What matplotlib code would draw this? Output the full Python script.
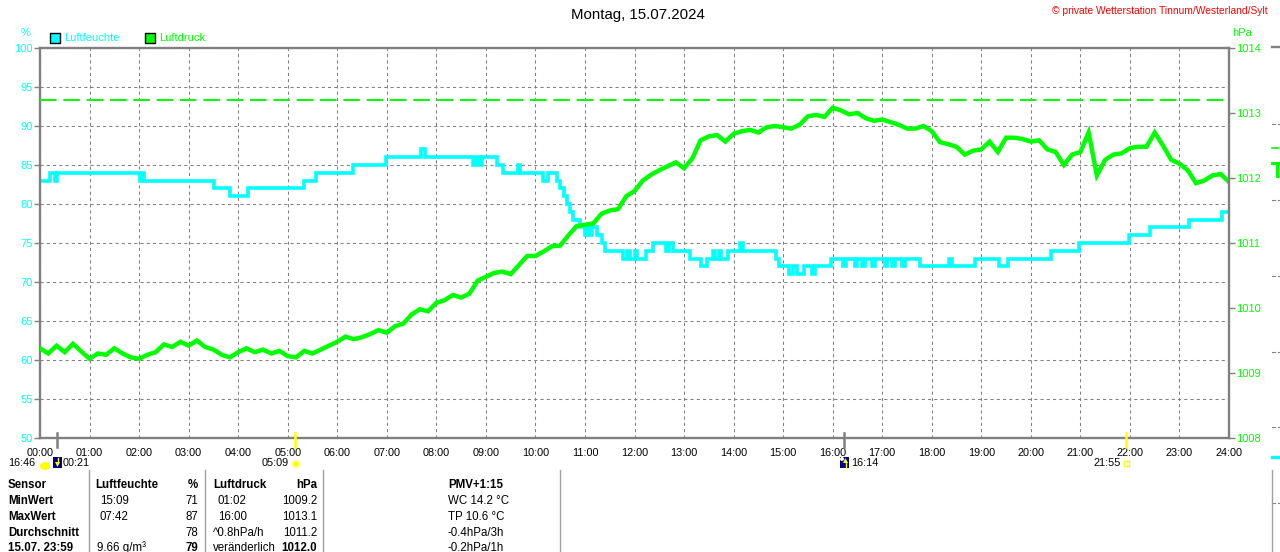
import matplotlib
matplotlib.use('Agg')
import matplotlib.pyplot as plt
from matplotlib.patches import Rectangle, Polygon, Circle, Ellipse
from matplotlib.lines import Line2D

plt.rcParams['font.family'] = ['Liberation Sans', 'DejaVu Sans']

# ---------------- data ----------------
title = 'Montag, 15.07.2024'
copyright_txt = '\u00a9 private Wetterstation Tinnum/Westerland/Sylt'
hour_labels = ['%02d:00' % h for h in range(25)]
hum_ticks = [50, 55, 60, 65, 70, 75, 80, 85, 90, 95, 100]
pres_ticks = [1008, 1009, 1010, 1011, 1012, 1013, 1014]
pres_ref = 1013.2

# humidity (%) : step change times (hours) and values
hum_t = [0.0, 0.2, 0.3, 0.34, 2.02, 2.06, 2.1, 3.51, 3.84, 4.2, 5.33, 5.57, 6.32, 6.98,
         7.7, 7.78, 8.75, 8.8, 8.87, 8.93, 9.22, 9.35, 9.64, 9.68, 10.16, 10.26, 10.43,
         10.5, 10.57, 10.64, 10.7, 10.76, 10.9, 11.0, 11.04, 11.1, 11.14, 11.24, 11.34,
         11.4, 11.77, 11.85, 11.9, 12.0, 12.05, 12.24, 12.37, 12.64, 12.7, 12.78, 13.12,
         13.35, 13.46, 13.58, 13.63, 13.7, 13.75, 13.88, 14.12, 14.19, 14.85, 14.92,
         15.12, 15.2, 15.27, 15.42, 15.58, 15.65, 15.96, 16.2, 16.26, 16.45, 16.5, 16.6,
         16.65, 16.8, 16.85, 17.05, 17.1, 17.2, 17.25, 17.4, 17.45, 17.77, 18.35, 18.4,
         18.87, 19.35, 19.54, 20.4, 20.98, 21.98, 22.4, 23.2, 23.85, 24.0]
hum_v = [83, 84, 83, 84, 83, 84, 83, 82, 81, 82, 83, 84, 85, 86,
         87, 86, 85, 86, 85, 86, 85, 84, 85, 84, 83, 84, 83,
         82, 81, 80, 79, 78, 77, 76, 77, 76, 77, 76, 75,
         74, 73, 74, 73, 74, 73, 74, 75, 74, 75, 74, 73,
         72, 73, 74, 73, 74, 73, 74, 75, 74, 73, 72,
         71, 72, 71, 72, 71, 72, 73, 72, 73, 72, 73, 72,
         73, 72, 73, 72, 73, 72, 73, 72, 73, 72, 73, 72,
         73, 72, 73, 74, 75, 76, 77, 78, 79, 79]

# air pressure (hPa), one reading every 10 minutes from 00:00 to 24:00
pres_v = [1009.38, 1009.30, 1009.42, 1009.32, 1009.45, 1009.33,
          1009.22, 1009.30, 1009.28, 1009.38, 1009.30, 1009.24,
          1009.22, 1009.28, 1009.32, 1009.44, 1009.40, 1009.48,
          1009.42, 1009.50, 1009.40, 1009.36, 1009.28, 1009.24,
          1009.32, 1009.38, 1009.32, 1009.36, 1009.30, 1009.34,
          1009.26, 1009.24, 1009.34, 1009.30, 1009.36, 1009.42,
          1009.48, 1009.56, 1009.52, 1009.55, 1009.60, 1009.66,
          1009.62, 1009.72, 1009.76, 1009.90, 1009.98, 1009.95,
          1010.08, 1010.12, 1010.20, 1010.16, 1010.22, 1010.42,
          1010.48, 1010.54, 1010.56, 1010.52, 1010.66, 1010.80,
          1010.80, 1010.87, 1010.95, 1010.96, 1011.12, 1011.26,
          1011.28, 1011.30, 1011.45, 1011.50, 1011.52, 1011.72,
          1011.80, 1011.96, 1012.05, 1012.12, 1012.18, 1012.24,
          1012.15, 1012.30, 1012.58, 1012.64, 1012.66, 1012.56,
          1012.68, 1012.72, 1012.74, 1012.70, 1012.78, 1012.80,
          1012.78, 1012.76, 1012.82, 1012.95, 1012.97, 1012.94,
          1013.08, 1013.04, 1012.98, 1013.00, 1012.92, 1012.88,
          1012.90, 1012.86, 1012.82, 1012.76, 1012.76, 1012.80,
          1012.72, 1012.55, 1012.52, 1012.48, 1012.36, 1012.42,
          1012.44, 1012.56, 1012.40, 1012.62, 1012.62, 1012.60,
          1012.56, 1012.58, 1012.44, 1012.40, 1012.20, 1012.36,
          1012.40, 1012.70, 1012.04, 1012.28, 1012.36, 1012.38,
          1012.46, 1012.48, 1012.48, 1012.70, 1012.50, 1012.28,
          1012.22, 1012.12, 1011.92, 1011.96, 1012.04, 1012.06,
          1011.94]
pres_t = [i / 6 for i in range(len(pres_v))]

# astronomical events shown under the axis (hours, label)
moon_set = (0.35, '00:21')
sun_rise = (5.15, '05:09')
moon_rise = (16.23, '16:14')
sun_set = (21.92, '21:55')
prev_moonrise_label = '16:46'

# summary table
table_rows = [
    ['Sensor', 'Luftfeuchte', '%', 'Luftdruck', 'hPa', 'PMV+1:15'],
    ['MinWert', '15:09', '71', '01:02', '1009.2', 'WC 14.2 \u00b0C'],
    ['MaxWert', '07:42', '87', '16:00', '1013.1', 'TP 10.6 \u00b0C'],
    ['Durchschnitt', '', '78', '^0.8hPa/h', '1011.2', '-0.4hPa/3h'],
    ['15.07. 23:59', '9.66 g/m\u00b3', '79', 'ver\u00e4nderlich', '1012.0', '-0.2hPa/1h'],
]

# ---------------- styling ----------------
CYAN = '#00FFFF'
GREEN = '#00FF00'
GRAY = '#808080'
W, H = 1280, 552
L, R, T, B = 40, 1229, 48, 438

fig = plt.figure(figsize=(W / 100, H / 100), dpi=100)
fig.patch.set_facecolor('white')
ax = fig.add_axes([L / W, 1 - B / H, (R - L) / W, (B - T) / H])
ax2 = ax.twinx()

ax.step(hum_t, hum_v, where='post', color=CYAN, lw=2.6, solid_joinstyle='miter')
ax2.plot(pres_t, pres_v, color=GREEN, lw=3.2, solid_joinstyle='miter')
ax2.axhline(pres_ref, color=GREEN, lw=1.4, ls=(0, (8.5, 3.5)))

ax.set_xlim(0, 24)
ax.set_ylim(50, 100)
ax2.set_ylim(1008, 1014)
ax.set_xticks(range(25))
ax.set_xticklabels(hour_labels)
ax.set_yticks(hum_ticks)
ax.set_yticklabels([str(v) for v in hum_ticks])
ax2.set_yticks(pres_ticks)
ax2.set_yticklabels([str(v) for v in pres_ticks])
ax.grid(True, color=GRAY, lw=0.75, ls=(0, (3, 3)))

ax.tick_params(axis='x', length=0, pad=7, labelsize=7.8, labelcolor='black')
ax.tick_params(axis='y', length=4, width=1, color=GRAY, pad=1, labelsize=8, labelcolor=CYAN)
ax2.tick_params(axis='y', length=4, width=1, color=GRAY, pad=1, labelsize=8, labelcolor=GREEN)

for s in ['left', 'bottom', 'top']:
    ax.spines[s].set_color(GRAY)
    ax.spines[s].set_linewidth(1.7)
ax.spines['right'].set_visible(False)
for s in ['left', 'bottom', 'top']:
    ax2.spines[s].set_visible(False)
ax2.spines['right'].set_color(GRAY)
ax2.spines['right'].set_linewidth(1.7)

# ---------------- overlay (pixel coordinates) ----------------
ov = fig.add_axes([0, 0, 1, 1], zorder=10)
ov.set_xlim(0, W)
ov.set_ylim(H, 0)
ov.axis('off')
ov.patch.set_visible(False)

def hx(h):
    return L + (R - L) * h / 24.0

ov.text(638, 15, title, ha='center', va='center', fontsize=10.8, color='black')
ov.text(1268, 11, copyright_txt, ha='right', va='center', fontsize=7.4, color='red')
ov.text(26, 33, '%', ha='center', va='center', fontsize=8, color=CYAN)
ov.text(1232, 33, 'hPa', ha='left', va='center', fontsize=8, color=GREEN)

ov.add_patch(Rectangle((50, 33), 10, 10, fc=CYAN, ec='black', lw=1))
ov.text(64, 38, 'Luftfeuchte', ha='left', va='center', fontsize=8, color=CYAN)
ov.add_patch(Rectangle((145, 33), 10, 10, fc=GREEN, ec='black', lw=1))
ov.text(159, 38, 'Luftdruck', ha='left', va='center', fontsize=8, color=GREEN)

# event ticks on the time axis
for (h, _), col in [(moon_set, GRAY), (sun_rise, '#FFFF00'), (moon_rise, GRAY), (sun_set, '#FFFF00')]:
    ov.add_line(Line2D([hx(h), hx(h)], [433, 447], color=col, lw=1.8))

ev_y = 463
ov.text(8, ev_y, prev_moonrise_label, ha='left', va='center', fontsize=7.8)
ov.add_patch(Ellipse((45, 466), 10, 8, fc='#FFFF00', ec='none'))
ov.add_patch(Rectangle((53, 457), 9, 11, fc='#000080', ec='none'))
ov.add_patch(Polygon([[55, 462], [60, 462], [57.5, 467]], closed=True, fc='#FFFF00', ec='none'))
ov.add_line(Line2D([57.5, 57.5], [458, 463], color='#FFFF00', lw=1))
ov.text(63, ev_y, moon_set[1], ha='left', va='center', fontsize=7.8)

ov.text(289, ev_y, sun_rise[1], ha='right', va='center', fontsize=7.8)
ov.add_patch(Circle((296, 464), 4.5, fc='#FFFFB0', ec='none'))
ov.add_patch(Circle((296, 464), 3, fc='#FFFF00', ec='none'))

ov.add_patch(Rectangle((840, 457), 9, 11, fc='#000080', ec='none'))
ov.add_patch(Circle((842, 459), 2, fc='white', ec='none'))
ov.add_patch(Polygon([[843, 463], [848, 463], [845.5, 458]], closed=True, fc='#FFFF00', ec='none'))
ov.add_line(Line2D([845.5, 845.5], [462, 468], color='#FFFF00', lw=1))
ov.text(851, ev_y, moon_rise[1], ha='left', va='center', fontsize=7.8)

ov.text(1121, ev_y, sun_set[1], ha='right', va='center', fontsize=7.8)
ov.add_patch(Rectangle((1124, 461), 5, 5, fc='none', ec='#FFFF00', lw=1))

# summary table
row_y = [485, 501, 517, 533, 548]
fs = 8.3
for i, row in enumerate(table_rows):
    y = row_y[i]
    head = (i == 0)
    ov.text(8, y, row[0], ha='left', va='center', fontsize=fs, fontweight='bold')
    ov.text(95 if head else 100 if i < 4 else 97, y, row[1], ha='left', va='center',
            fontsize=fs, fontweight='bold' if head else 'normal')
    ov.text(198, y, row[2], ha='right', va='center', fontsize=fs,
            fontweight='bold' if (head or i == 4) else 'normal')
    ov.text(218 if i in (1, 2) else 213, y, row[3], ha='left', va='center', fontsize=fs,
            fontweight='bold' if head else 'normal')
    ov.text(317, y, row[4], ha='right', va='center', fontsize=fs,
            fontweight='bold' if (head or i == 4) else 'normal')
    ov.text(448, y, row[5], ha='left', va='center', fontsize=fs,
            fontweight='bold' if head else 'normal')
for x in [89, 205, 323, 560]:
    ov.add_line(Line2D([x, x], [470, 552], color='#A0A0A0', lw=1))

# fragment of the neighbouring panel at the right edge
ov.add_line(Line2D([1272, 1280], [47, 47], color=GRAY, lw=1.7))
for y in [124, 200, 276, 352, 427, 503]:
    ov.add_line(Line2D([1272, 1275], [y, y], color=GRAY, lw=0.8))
    ov.add_line(Line2D([1278, 1279], [y, y], color=GRAY, lw=0.8))
ov.add_line(Line2D([1272, 1278], [148, 148], color=GREEN, lw=1.2))
ov.add_line(Line2D([1272, 1278], [163, 163], color=GREEN, lw=2.2))
ov.add_line(Line2D([1277, 1277], [163, 176], color=GREEN, lw=2.2))
ov.add_line(Line2D([1272, 1280], [457, 457], color=CYAN, lw=2.4))
ov.add_line(Line2D([1272, 1272], [470, 552], color='#A0A0A0', lw=1))

fig.savefig('out.png', dpi=100)
